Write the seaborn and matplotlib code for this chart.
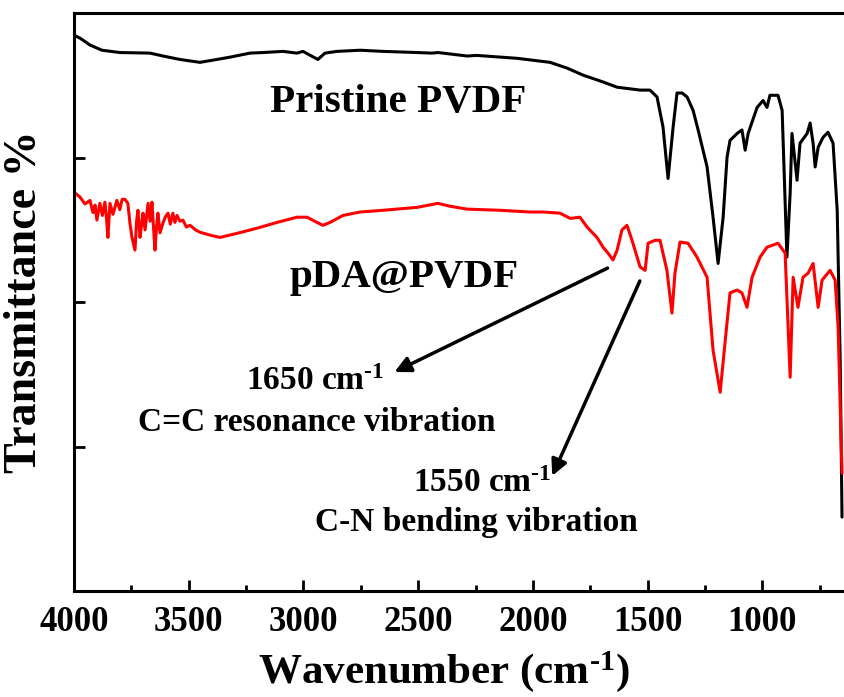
import numpy as np
import pandas as pd
import matplotlib
matplotlib.use("Agg")
import matplotlib.pyplot as plt
from matplotlib.ticker import MultipleLocator, NullFormatter
import seaborn as sns

# ===== data (wavenumber in cm-1, transmittance in a.u.) =====
pristine_wn = [4000, 3974, 3930, 3878, 3800, 3669, 3612, 3538, 3451, 3377, 3320, 3233, 3176,
               3089, 3028, 3002, 2937, 2906, 2854, 2753, 2653, 2505, 2440, 2414, 2287, 2244,
               2069, 1925, 1851, 1782, 1694, 1633, 1533, 1490, 1459, 1433, 1411, 1389, 1372,
               1350, 1328, 1302, 1280, 1241, 1215, 1193, 1171, 1154, 1141, 1110, 1089, 1075,
               1062, 1023, 997, 980, 967, 932, 914, 893, 879, 871, 849, 836, 805, 792, 779,
               770, 757, 736, 714, 692, 674, 661, 653]
pristine_t = [96.2, 95.7, 94.5, 93.6, 93.2, 93.1, 92.6, 92.0, 91.5, 92.0, 92.4, 93.1, 93.2,
              93.4, 93.1, 93.4, 92.0, 93.1, 93.4, 93.6, 93.4, 93.2, 93.1, 93.2, 92.6, 92.7,
              92.2, 91.5, 90.5, 89.3, 88.1, 87.2, 86.7, 86.7, 85.5, 80.3, 71.4, 80.3, 86.2,
              86.2, 85.5, 83.2, 79.8, 73.4, 64.7, 56.7, 64.7, 75.1, 78.0, 79.2, 79.8, 76.3,
              79.2, 83.7, 84.9, 83.7, 85.8, 85.8, 83.2, 57.8, 68.9, 79.2, 71.1, 77.5, 79.2,
              81.0, 77.5, 73.4, 76.8, 78.5, 79.4, 77.5, 65.9, 40.0, 12.8]

pda_wn = [3996, 3974, 3952, 3930, 3917, 3908, 3900, 3887, 3876, 3865, 3858, 3852, 3843,
          3830, 3813, 3800, 3790, 3778, 3765, 3756, 3747, 3734, 3727, 3721, 3712, 3705,
          3699, 3690, 3677, 3668, 3660, 3647, 3640, 3634, 3625, 3612, 3601, 3590, 3580,
          3569, 3560, 3551, 3538, 3525, 3510, 3494, 3470, 3451, 3407, 3364, 3290, 3202,
          3115, 3028, 2984, 2941, 2915, 2884, 2828, 2753, 2653, 2505, 2414, 2361, 2287,
          2143, 2013, 1956, 1882, 1838, 1795, 1764, 1721, 1694, 1673, 1651, 1633, 1612,
          1590, 1568, 1533, 1511, 1498, 1468, 1446, 1416, 1394, 1381, 1359, 1324, 1285,
          1241, 1215, 1184, 1163, 1141, 1110, 1089, 1067, 1045, 1010, 980, 932, 901, 879,
          866, 845, 823, 801, 779, 757, 740, 705, 683, 670, 653]
pda_t = [68.9, 68.2, 67.0, 67.6, 65.5, 66.8, 64.2, 67.1, 65.0, 67.3, 64.5, 61.2, 67.1,
         65.2, 67.6, 66.0, 67.8, 67.8, 67.1, 63.7, 61.2, 59.0, 64.0, 65.9, 61.2, 63.5,
         65.4, 62.5, 67.1, 64.0, 67.3, 59.0, 63.0, 65.4, 62.0, 63.7, 64.8, 65.4, 63.5,
         65.4, 63.8, 65.0, 64.0, 64.2, 63.0, 63.3, 62.5, 62.1, 61.6, 61.2, 61.9, 62.8,
         63.8, 64.7, 64.7, 63.8, 63.3, 63.8, 65.0, 65.6, 65.9, 66.4, 67.1, 66.6, 66.1,
         65.9, 65.6, 65.6, 65.4, 64.5, 64.7, 63.0, 61.2, 59.5, 58.5, 57.3, 59.0, 62.5,
         63.3, 60.7, 56.1, 55.5, 60.2, 60.7, 60.7, 55.5, 48.1, 55.0, 60.4, 60.2, 57.8,
         54.3, 41.7, 34.4, 42.9, 51.6, 52.1, 51.6, 49.1, 54.3, 57.8, 59.5, 60.2, 58.5, 37.0,
         54.3, 49.1, 54.3, 55.0, 56.7, 49.1, 53.8, 55.5, 53.8, 45.7, 20.4]

sns.set_style("ticks")
plt.rcParams["font.family"] = ["Liberation Serif", "DejaVu Serif"]
plt.rcParams["font.weight"] = "bold"
plt.rcParams["mathtext.fontset"] = "custom"
plt.rcParams["mathtext.rm"] = "Liberation Serif:bold"
plt.rcParams["mathtext.it"] = "Liberation Serif:bold"
plt.rcParams["mathtext.bf"] = "Liberation Serif:bold"
for key in ["text.color", "axes.labelcolor", "xtick.color", "ytick.color", "axes.edgecolor"]:
    plt.rcParams[key] = "black"

fig = plt.figure(figsize=(8.45, 6.97), dpi=100)
ax = fig.add_axes([0.0875, 0.152, 0.9125, 0.829])

df_p = pd.DataFrame({"wn": pristine_wn, "t": pristine_t})
df_d = pd.DataFrame({"wn": pda_wn, "t": pda_t})
sns.lineplot(data=df_p, x="wn", y="t", color="black", lw=2.2, estimator=None, ax=ax)
sns.lineplot(data=df_d, x="wn", y="t", color="red", lw=2.2, estimator=None, ax=ax)

ax.set_xlim(4000, 640)
ax.set_ylim(0, 100)
ax.xaxis.set_major_locator(MultipleLocator(500))
ax.xaxis.set_minor_locator(MultipleLocator(250))
ax.yaxis.set_major_locator(MultipleLocator(25))
ax.yaxis.set_major_formatter(NullFormatter())
ax.tick_params(axis="both", which="major", direction="in", length=8, width=2, labelsize=25, pad=11)
ax.tick_params(axis="x", which="minor", direction="in", length=4.5, width=2)
for lbl in ax.get_xticklabels():
    lbl.set_fontweight("bold")
for side in ["left", "bottom", "top"]:
    ax.spines[side].set_linewidth(2.2)
ax.spines["right"].set_visible(False)

ax.set_xlabel("Wavenumber (cm$^{\u20101}$)", fontsize=31, fontweight="bold")
ax.set_ylabel("Transmittance %", fontsize=33, fontweight="bold")
ax.xaxis.set_label_coords(0.48, -0.1)
ax.yaxis.set_label_coords(-0.036, 0.5)

ax.text(2588, 84.6, "Pristine PVDF", fontsize=29.5, fontweight="bold", ha="center", va="center")
ax.text(2562, 54.3, "pDA@PVDF", fontsize=29.5, fontweight="bold", ha="center", va="center")
ax.text(2950, 36.3, "1650 cm$^{\u20101}$", fontsize=24, fontweight="bold", ha="center", va="center")
ax.text(2941, 29.1, "C=C resonance vibration", fontsize=24, fontweight="bold", ha="center", va="center")
ax.text(2222, 18.7, "1550 cm$^{\u20101}$", fontsize=24, fontweight="bold", ha="center", va="center")
ax.text(2248, 11.8, "C-N bending vibration", fontsize=24, fontweight="bold", ha="center", va="center")

arrow = dict(arrowstyle="-|>", color="black", lw=2.5, mutation_scale=24)
ax.annotate("", xy=(2614, 37.7), xytext=(1664, 56.1), arrowprops=arrow)
ax.annotate("", xy=(1921, 19.5), xytext=(1529, 54.1), arrowprops=arrow)

fig.savefig("out.png", dpi=100)
